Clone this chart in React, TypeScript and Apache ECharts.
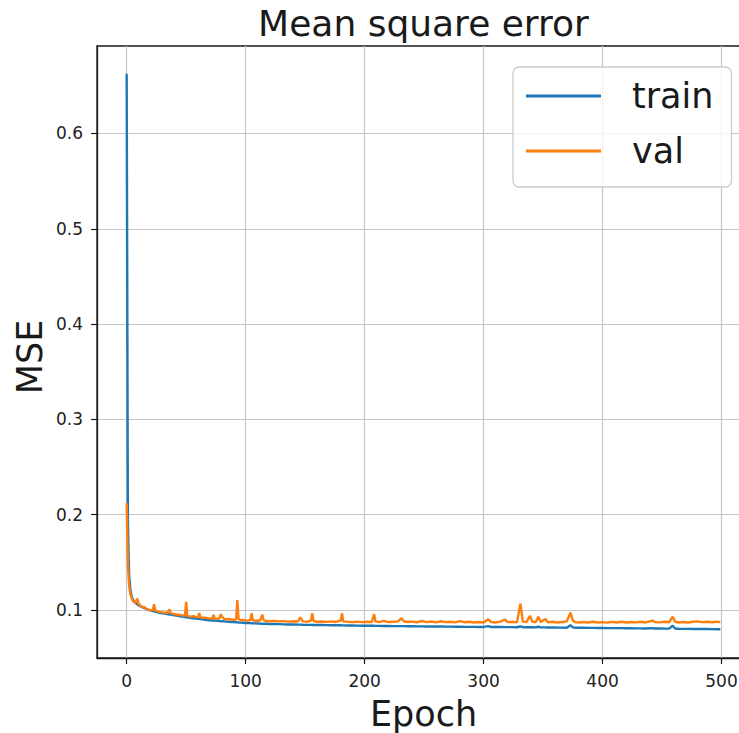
import React, { useEffect, useRef } from "react";
import * as echarts from "echarts";

const titleText = "Mean square error";
const xLabel = "Epoch";
const yLabel = "MSE";
const seriesNames = ["train", "val"];
const xTicks = [0, 100, 200, 300, 400, 500];
const yTicks = [0.1, 0.2, 0.3, 0.4, 0.5, 0.6];

const epochs = [
  0, 1, 2, 3, 4, 5, 6, 7, 8, 9, 10, 11, 12, 13, 14, 15, 16, 17, 18, 19, 20,
  22, 23, 24, 26, 28, 30, 32, 34, 35, 36, 37, 38, 40, 42, 44, 46, 48, 49, 50,
  51, 52, 54, 56, 58, 60, 61, 62, 64, 66, 68, 70, 72, 73, 74, 76, 78, 79, 80,
  82, 84, 86, 88, 90, 92, 93, 94, 96, 98, 100, 102, 104, 105, 106, 108, 110,
  112, 114, 115, 117, 120, 124, 128, 132, 136, 140, 144, 146, 148, 152, 155,
  156, 157, 160, 164, 168, 172, 176, 180, 181, 182, 186, 190, 194, 198, 202,
  206, 208, 209, 212, 216, 220, 224, 228, 231, 233, 236, 240, 244, 248, 252,
  256, 260, 264, 268, 272, 276, 280, 284, 288, 292, 296, 300, 304, 306, 310,
  314, 318, 320, 324, 328, 331, 333, 336, 339, 341, 344, 346, 348, 352, 354,
  358, 362, 366, 370, 373, 375, 377, 380, 384, 388, 392, 396, 400, 404, 408,
  412, 416, 420, 424, 428, 432, 436, 440, 442, 444, 448, 452, 456, 459, 461,
  464, 468, 472, 476, 480, 484, 488, 492, 496, 499,
];

const trainMse = [
  0.6626, 0.195, 0.138, 0.122, 0.115, 0.1115, 0.1095, 0.108, 0.1068, 0.106,
  0.105, 0.1043, 0.1036, 0.103, 0.1024, 0.1018, 0.1013, 0.1008, 0.1003, 0.0999,
  0.0995, 0.0988, 0.0985, 0.0982, 0.0976, 0.0971, 0.0966, 0.0961, 0.0957,
  0.0955, 0.0953, 0.0951, 0.0949, 0.0944, 0.094, 0.0936, 0.0932, 0.0928,
  0.0926, 0.0924, 0.0922, 0.092, 0.0916, 0.0913, 0.091, 0.0907, 0.0906,
  0.0904, 0.0901, 0.0898, 0.0895, 0.0892, 0.089, 0.0889, 0.0888, 0.0886,
  0.0884, 0.0883, 0.0882, 0.088, 0.0878, 0.0876, 0.0874, 0.0872, 0.0871,
  0.087, 0.0869, 0.0867, 0.0866, 0.0864, 0.0863, 0.0862, 0.0861, 0.086,
  0.0859, 0.0858, 0.0857, 0.0856, 0.0856, 0.0855, 0.0853, 0.0852, 0.0851,
  0.0849, 0.0848, 0.0847, 0.0846, 0.0846, 0.0845, 0.0844, 0.0844, 0.0843,
  0.0843, 0.0842, 0.0842, 0.0841, 0.084, 0.0839, 0.0839, 0.0838, 0.0838,
  0.0837, 0.0837, 0.0836, 0.0835, 0.0835, 0.0834, 0.0834, 0.0833, 0.0833,
  0.0832, 0.0832, 0.0831, 0.083, 0.083, 0.083, 0.0829, 0.0829, 0.0828,
  0.0828, 0.0827, 0.0827, 0.0826, 0.0826, 0.0825, 0.0825, 0.0824, 0.0824,
  0.0823, 0.0823, 0.0823, 0.0822, 0.0822, 0.083, 0.0822, 0.0821, 0.0821,
  0.082, 0.082, 0.082, 0.0819, 0.0827, 0.0819, 0.0818, 0.0818, 0.0818,
  0.0817, 0.0824, 0.0817, 0.0817, 0.0816, 0.0816, 0.0815, 0.0815, 0.0814,
  0.084, 0.0818, 0.0814, 0.0813, 0.0813, 0.0812, 0.0812, 0.0811, 0.0811,
  0.081, 0.081, 0.0809, 0.0809, 0.0808, 0.0808, 0.0807, 0.0807, 0.0806,
  0.081, 0.0808, 0.0805, 0.0805, 0.0804, 0.0804, 0.0835, 0.0806, 0.0803,
  0.0802, 0.0802, 0.0801, 0.0801, 0.08, 0.08, 0.0799, 0.0798, 0.0797,
];

const valMse = [
  0.212, 0.15, 0.126, 0.117, 0.113, 0.11, 0.1085, 0.1075, 0.109, 0.112,
  0.106, 0.1055, 0.104, 0.1035, 0.1025, 0.103, 0.1015, 0.101, 0.1005, 0.1,
  0.0995, 0.1, 0.106, 0.0995, 0.0985, 0.098, 0.0975, 0.0972, 0.0968, 0.0985,
  0.1005, 0.097, 0.0962, 0.0958, 0.0952, 0.095, 0.0945, 0.094, 0.0942,
  0.1085, 0.094, 0.0935, 0.093, 0.0935, 0.0928, 0.0925, 0.0968, 0.0925,
  0.0918, 0.092, 0.0914, 0.0912, 0.091, 0.0948, 0.091, 0.0908, 0.0912,
  0.0955, 0.0935, 0.0905, 0.0902, 0.0906, 0.09, 0.0898, 0.09, 0.1105, 0.0905,
  0.0893, 0.0896, 0.089, 0.0888, 0.0895, 0.0965, 0.0892, 0.0886, 0.0889,
  0.0885, 0.0952, 0.0895, 0.0884, 0.0882, 0.0886, 0.088, 0.0883, 0.0878,
  0.0882, 0.0879, 0.0923, 0.088, 0.0877, 0.089, 0.0965, 0.0885, 0.0876,
  0.0879, 0.0875, 0.088, 0.0874, 0.089, 0.0965, 0.088, 0.0876, 0.0873,
  0.0878, 0.0872, 0.0876, 0.0874, 0.0956, 0.0882, 0.0873, 0.0885, 0.0872,
  0.0877, 0.088, 0.0913, 0.0882, 0.0874, 0.0878, 0.0871, 0.0884, 0.0873,
  0.0879, 0.087, 0.0882, 0.0872, 0.0876, 0.087, 0.0883, 0.0871, 0.0877,
  0.0869, 0.0874, 0.0868, 0.0903, 0.0875, 0.0869, 0.0878, 0.0898, 0.0872,
  0.0877, 0.087, 0.1065, 0.0878, 0.0872, 0.0937, 0.0875, 0.0874, 0.093,
  0.0873, 0.0905, 0.0871, 0.0876, 0.0869, 0.0874, 0.088, 0.0972, 0.089,
  0.0872, 0.0868, 0.0874, 0.0869, 0.0876, 0.0868, 0.0873, 0.0867, 0.0875,
  0.0869, 0.0876, 0.0868, 0.0874, 0.087, 0.0877, 0.0869, 0.0882, 0.0888,
  0.0873, 0.087, 0.0876, 0.0871, 0.093, 0.0876, 0.0869, 0.0874, 0.0868,
  0.0876, 0.088, 0.0873, 0.0877, 0.0871, 0.0878, 0.0872,
];

const FONT = "'DejaVu Sans', 'Liberation Sans', sans-serif";
const INK = "#1a1a1a";

export default function App() {
  const ref = useRef<HTMLDivElement>(null);

  useEffect(() => {
    if (!ref.current) return;
    const chart = echarts.init(ref.current, undefined, { renderer: "svg" });
    const trainData = epochs.map((e, i) => [e, trainMse[i]]);
    const valData = epochs.map((e, i) => [e, valMse[i]]);

    const axisCommon = {
      type: "value" as const,
      axisLine: { show: true, onZero: false, lineStyle: { color: INK, width: 1.3 } },
      splitLine: { show: true, lineStyle: { color: "#c6c6c6", width: 1.2 } },
    };

    chart.setOption({
      animation: false,
      backgroundColor: "#ffffff",
      grid: {
        left: 97,
        right: -11,
        top: 46,
        bottom: 75,
        containLabel: false,
        outerBoundsMode: "none",
        show: true,
        borderColor: INK,
        borderWidth: 1.3,
        backgroundColor: "transparent",
      },
      xAxis: {
        ...axisCommon,
        min: -24.95,
        max: 523.95,
        axisTick: {
          show: true,
          inside: false,
          length: 6,
          customValues: xTicks,
          lineStyle: { color: INK, width: 1.2 },
        },
        axisLabel: {
          customValues: xTicks,
          margin: 14,
          fontSize: 17,
          fontFamily: FONT,
          color: "#222",
        },
      },
      yAxis: {
        ...axisCommon,
        min: 0.0496,
        max: 0.6918,
        axisTick: {
          show: true,
          inside: false,
          length: 6,
          customValues: yTicks,
          lineStyle: { color: INK, width: 1.2 },
        },
        axisLabel: {
          customValues: yTicks,
          margin: 14,
          fontSize: 17,
          fontFamily: FONT,
          color: "#222",
          formatter: (v: number) => v.toFixed(1),
        },
      },
      legend: {
        data: seriesNames,
        orient: "vertical",
        left: 513,
        top: 67,
        padding: [9, 18, 16, 13],
        itemGap: 15,
        itemWidth: 75,
        itemHeight: 3,
        icon: "rect",
        selectedMode: false,
        backgroundColor: "rgba(255,255,255,0.8)",
        borderColor: "#cccccc",
        borderWidth: 1.3,
        borderRadius: 6,
        textStyle: {
          fontSize: 35,
          fontFamily: FONT,
          color: INK,
          lineHeight: 40,
          padding: [0, 0, 0, 26],
        },
      },
      graphic: [
        {
          type: "text",
          x: 423.5,
          y: 23.5,
          style: {
            text: titleText,
            fontSize: 36,
            fontFamily: FONT,
            fill: INK,
            align: "center",
            verticalAlign: "middle",
          },
        },
        {
          type: "text",
          x: 423.5,
          y: 714,
          style: {
            text: xLabel,
            fontSize: 35,
            fontFamily: FONT,
            fill: INK,
            align: "center",
            verticalAlign: "middle",
          },
        },
        {
          type: "text",
          x: 30,
          y: 357,
          rotation: Math.PI / 2,
          style: {
            text: yLabel,
            fontSize: 35,
            fontFamily: FONT,
            fill: INK,
            align: "center",
            verticalAlign: "middle",
          },
        },
      ],
      series: [
        {
          name: seriesNames[0],
          type: "line",
          data: trainData,
          showSymbol: false,
          symbol: "none",
          color: "#1f77b4",
          lineStyle: { color: "#1f77b4", width: 2.4 },
          emphasis: { disabled: true },
          z: 2,
        },
        {
          name: seriesNames[1],
          type: "line",
          data: valData,
          showSymbol: false,
          symbol: "none",
          color: "#ff7f0e",
          lineStyle: { color: "#ff7f0e", width: 2.4 },
          emphasis: { disabled: true },
          z: 3,
        },
      ],
    });

    return () => chart.dispose();
  }, []);

  return (
    <div
      ref={ref}
      style={{ position: "fixed", left: 0, top: 0, width: 739, height: 733, background: "#fff" }}
    />
  );
}
